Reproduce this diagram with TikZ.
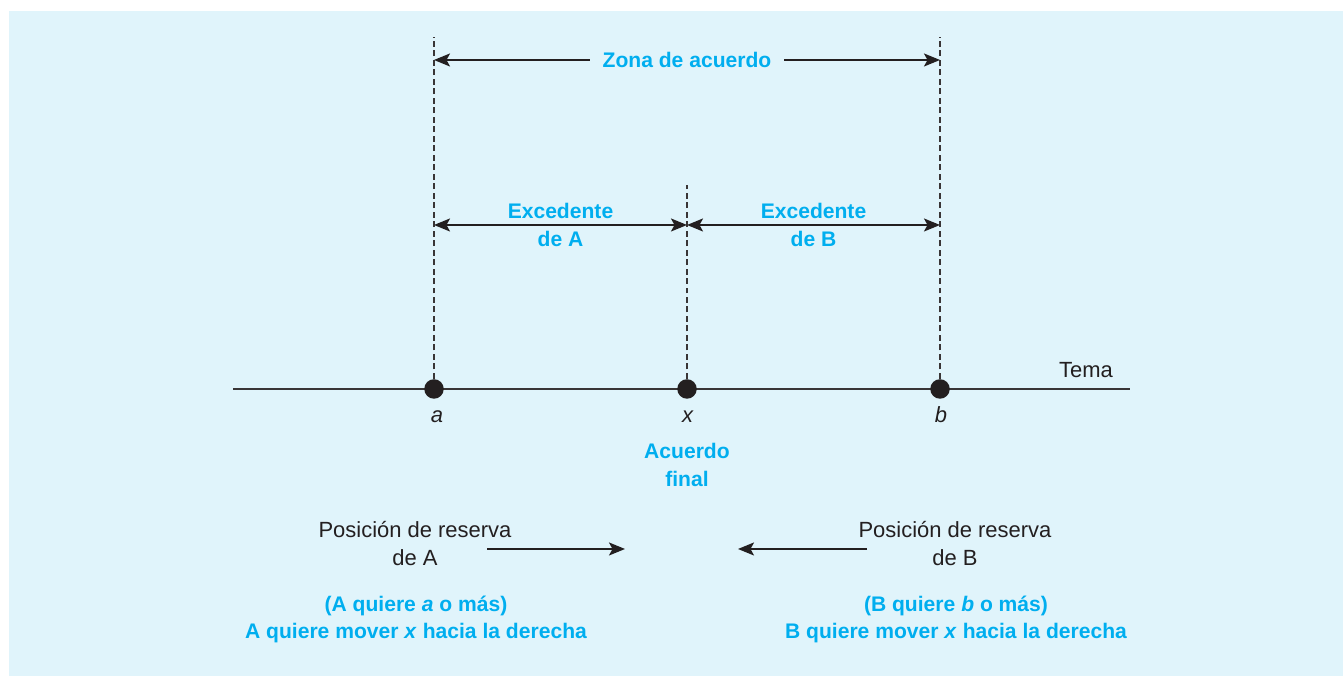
\documentclass[tikz,border=0pt]{standalone}
\usepackage{fontspec}
\setmainfont{Liberation Sans}
\usepackage{tikz}
\usetikzlibrary{positioning, arrows.meta}
\usepackage{xcolor}
\definecolor{fondo}{RGB}{224,244,251}
\definecolor{azul}{RGB}{0,174,239}
\definecolor{tinta}{RGB}{35,31,32}

\begin{document}
\begin{tikzpicture}[
    punta/.tip={Stealth[length=3.2mm, width=2.6mm, inset=0.7mm]},
    flecha/.style={-punta, line width=0.95pt, tinta},
    doble/.style={punta-punta, line width=0.95pt, tinta},
    guia/.style={dash pattern=on 3.4pt off 2pt, tinta!90, line width=0.7pt},
    etiqueta/.style={font=\fontsize{12}{15.5}\selectfont\bfseries, text=azul, align=center},
    texto/.style={font=\fontsize{12.5}{15.5}\selectfont, text=tinta, align=center},
    punto/.style={circle, fill=tinta, inner sep=0pt, minimum size=3.9mm}
]
    \fill[fondo] (0.18,0) rectangle (26.86,13.30);
    \useasboundingbox (0,0) rectangle (26.86,13.52);

    % issue axis
    \coordinate (ejeI) at (4.66,5.74);
    \coordinate (ejeD) at (22.60,5.74);
    \draw[tinta!90, line width=0.95pt] (ejeI) -- (ejeD);
    \node[texto, anchor=base east] (tema) at (22.38,5.96) {Tema};

    % points a, x, b
    \node[punto] (pa) at (8.68,5.74) {};
    \node[punto] (px) at (13.74,5.74) {};
    \node[punto] (pb) at (18.80,5.74) {};
    \node[texto, anchor=base] (la) at (8.74,5.06) {\textit{a}};
    \node[texto, anchor=base] (lx) at (13.76,5.06) {\textit{x}};
    \node[texto, anchor=base] (lb) at (18.82,5.06) {\textit{b}};

    % dashed guides
    \coordinate (ta) at (8.68,12.78);
    \coordinate (tx) at (13.74,9.82);
    \coordinate (tb) at (18.80,12.78);
    \draw[guia] (pa.north) -- (ta);
    \draw[guia] (px.north) -- (tx);
    \draw[guia] (pb.north) -- (tb);

    % zone of agreement
    \coordinate (za) at (8.68,12.32);
    \coordinate (zb) at (18.80,12.32);
    \draw[doble] (za) -- node[etiqueta, fill=fondo, inner xsep=7pt] (zona) {Zona de acuerdo} (zb);

    % surpluses
    \coordinate (ea) at (8.68,9.02);
    \coordinate (ex) at (13.74,9.02);
    \coordinate (eb) at (18.80,9.02);
    \draw[doble] (ea) -- node[etiqueta] (exA) {Excedente\\de A} (ex);
    \draw[doble] (ex) -- node[etiqueta] (exB) {Excedente\\de B} (eb);

    \node[etiqueta] (final) at (13.74,4.22) {Acuerdo\\final};

    % reservation positions
    \node[texto] (resA) at (8.30,2.65) {Posición de reserva\\de A};
    \node[texto] (resB) at (19.10,2.65) {Posición de reserva\\de B};
    \coordinate (ra1) at (9.74,2.54);
    \coordinate (ra2) at (12.50,2.54);
    \coordinate (rb1) at (17.34,2.54);
    \coordinate (rb2) at (14.76,2.54);
    \draw[flecha] (ra1) -- (ra2);
    \draw[flecha] (rb1) -- (rb2);

    \node[etiqueta] (quiereA) at (8.32,1.13) {(A quiere \textit{a} o más)\\A quiere mover \textit{x} hacia la derecha};
    \node[etiqueta] (quiereB) at (19.12,1.13) {(B quiere \textit{b} o más)\\B quiere mover \textit{x} hacia la derecha};
\end{tikzpicture}
\end{document}
